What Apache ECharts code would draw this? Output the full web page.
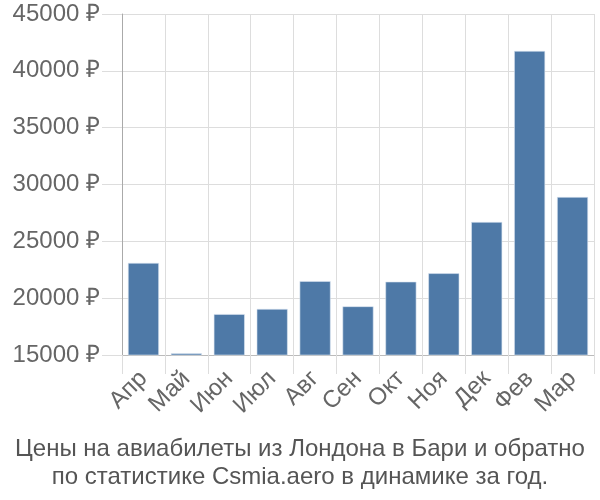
<!DOCTYPE html>
<html>
<head>
<meta charset="utf-8">
<script src="https://cdn.jsdelivr.net/npm/echarts@6/dist/echarts.min.js"></script>
<style>html,body{margin:0;padding:0;background:#fff}#c{width:600px;height:500px}</style>
</head>
<body>
<div id="c"></div>
<script>
const categories = ['Апр','Май','Июн','Июл','Авг','Сен','Окт','Ноя','Дек','Фев','Мар'];
const prices = [23100, 15150, 18600, 19050, 21500, 19280, 21450, 22190, 26700, 41750, 28900];
const yTicks = { min: 15000, max: 45000, interval: 5000 };
const titleLines = ['Цены на авиабилеты из Лондона в Бари и обратно', 'по статистике Csmia.aero в динамике за год.'];

const FONT = 'Liberation Sans, Arial, sans-serif';
const chart = echarts.init(document.getElementById('c'), null, {renderer: 'canvas'});
chart.setOption({
  animation: false,
  textStyle: { fontFamily: FONT },
  title: {
    text: titleLines.join('\n'),
    left: 'center',
    top: 430,
    textStyle: { fontSize: 24, fontWeight: 'normal', color: '#555', lineHeight: 28, fontFamily: FONT }
  },
  grid: { left: 122, right: 6, top: 14, bottom: 145, containLabel: false },
  xAxis: {
    type: 'category',
    data: categories,
    axisLine: { show: true, lineStyle: { color: '#bbb', width: 1 } },
    axisTick: { show: true, interval: 0, length: 19, lineStyle: { color: '#ddd', width: 1 } },
    splitLine: { show: true, interval: 0, lineStyle: { color: '#ddd', width: 1 } },
    axisLabel: { interval: 0, hideOverlap: false, rotate: 45, margin: 20, fontSize: 24, color: '#666', fontFamily: FONT }
  },
  yAxis: {
    type: 'value',
    min: yTicks.min, max: yTicks.max, interval: yTicks.interval,
    axisLine: { show: true, lineStyle: { color: '#aaa', width: 1 } },
    axisTick: { show: true, length: 20, lineStyle: { color: '#ddd' } },
    splitLine: { show: true, lineStyle: { color: '#ddd', width: 1 } },
    axisLabel: { margin: 22, fontSize: 24, color: '#666', formatter: v => v + ' ₽', fontFamily: FONT }
  },
  series: [{
    type: 'bar',
    data: prices,
    barWidth: 31,
    itemStyle: { color: '#4e79a7', borderColor: '#dbe6f2', borderWidth: 0.6 }
  }]
});
</script>
</body>
</html>
